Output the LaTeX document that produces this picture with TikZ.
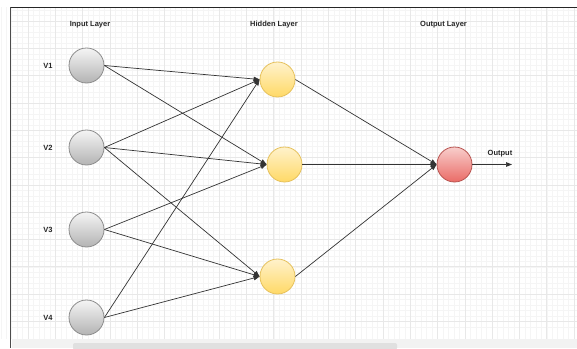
\documentclass[tikz,border=0pt]{standalone}
\usepackage{fontspec}
\setmainfont{Liberation Sans}
\usetikzlibrary{arrows.meta}

\definecolor{inputfill}{HTML}{F5F5F5}
\definecolor{inputshade}{HTML}{B3B3B3}
\definecolor{inputline}{HTML}{8C8C8C}
\definecolor{hiddenfill}{HTML}{FFF2CC}
\definecolor{hiddenshade}{HTML}{FFD966}
\definecolor{hiddenline}{HTML}{E6C15C}
\definecolor{outfill}{HTML}{F8CECC}
\definecolor{outshade}{HTML}{EA6B66}
\definecolor{outline}{HTML}{B85450}

\tikzset{every node/.style={font=\fontsize{7.5}{9}\selectfont\bfseries},
         neuron/.style={circle,draw,minimum size=35pt,inner sep=0pt,line width=0.8pt},
         inputneuron/.style={neuron,draw=inputline,top color=inputfill,bottom color=inputshade},
         hiddenneuron/.style={neuron,draw=hiddenline,top color=hiddenfill,bottom color=hiddenshade},
         outputneuron/.style={neuron,draw=outline,top color=outfill,bottom color=outshade},
         layerlabel/.style={text=black!85},
         synapse/.style={draw=black!80,line width=0.7pt,-{Triangle[length=6pt,width=4.5pt]}},
         minorgrid/.style={draw=black!4,line width=0.35pt},
         majorgrid/.style={draw=black!9,line width=0.5pt}}

\begin{document}
\begin{tikzpicture}[x=1pt,y=-1pt]
\useasboundingbox (0,0) rectangle (577,348);
\fill[white] (0,0) rectangle (577,348);
\foreach \i in {0,...,104} {
  \draw[minorgrid] ({0.7+5.46*\i},7) -- ({0.7+5.46*\i},339);
}
\foreach \i in {0,...,61} {
  \draw[minorgrid] (11,{-6.3+5.46*\i}) -- (577,{-6.3+5.46*\i});
}
\foreach \i in {1,...,21} {
  \draw[majorgrid] ({0.7+27.3*\i},7) -- ({0.7+27.3*\i},339);
}
\foreach \i in {1,...,12} {
  \draw[majorgrid] (11,{-6.3+27.3*\i}) -- (577,{-6.3+27.3*\i});
}
\fill[white] (0,0) rectangle (577,7);
\fill[black!5] (11.5,339) rectangle (577,348);
\fill[black!12,rounded corners=2pt] (73,343) rectangle (397,350);
\draw[black!85,line width=1.3pt] (10,7.3) -- (577,7.3);
\draw[black!70,line width=1.3pt] (10.7,7.3) -- (10.7,348);

\node[layerlabel] (inlabel) at (90,25) {Input Layer};
\node[layerlabel] (hidlabel) at (274,25) {Hidden Layer};
\node[layerlabel] (outlabel) at (443.5,25) {Output Layer};

\node[layerlabel] (v1label) at (48,66) {V1};
\node[layerlabel] (v2label) at (48,147.5) {V2};
\node[layerlabel] (v3label) at (48,229.5) {V3};
\node[layerlabel] (v4label) at (48,318) {V4};

\node[inputneuron] (v1) at (86.5,65.5) {};
\node[inputneuron] (v2) at (86.5,147.5) {};
\node[inputneuron] (v3) at (86.5,229.5) {};
\node[inputneuron] (v4) at (86.5,317.5) {};

\node[hiddenneuron] (h1) at (277.5,79.5) {};
\node[hiddenneuron] (h2) at (284.5,164.5) {};
\node[hiddenneuron] (h3) at (277.5,276.5) {};

\node[outputneuron] (out) at (454.5,164.5) {};
\coordinate (result) at (512,164.5);
\node[layerlabel] (outtext) at (500,154) {Output};

\draw[synapse] (v1.east) -- (h1.west);
\draw[synapse] (v1.east) -- (h2.west);
\draw[synapse] (v2.east) -- (h1.west);
\draw[synapse] (v2.east) -- (h2.west);
\draw[synapse] (v2.east) -- (h3.west);
\draw[synapse] (v3.east) -- (h2.west);
\draw[synapse] (v3.east) -- (h3.west);
\draw[synapse] (v4.east) -- (h1.west);
\draw[synapse] (v4.east) -- (h3.west);

\draw[synapse] (h1.east) -- (out.west);
\draw[synapse] (h2.east) -- (out.west);
\draw[synapse] (h3.east) -- (out.west);
\draw[synapse] (out.east) -- (result);
\end{tikzpicture}
\end{document}
